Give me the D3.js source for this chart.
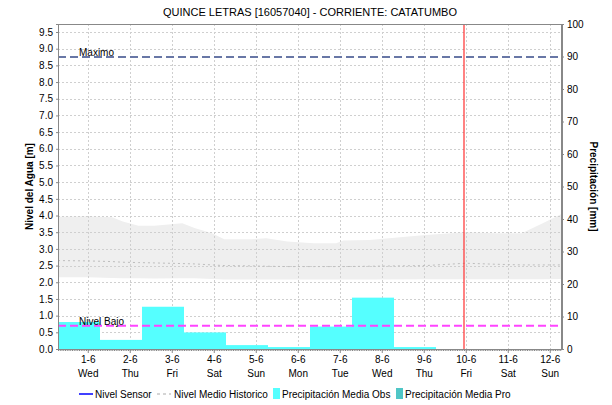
<!DOCTYPE html>
<meta charset="utf-8">
<style>
body{margin:0;background:#fff;}
svg text{font-family:"Liberation Sans",Arial,sans-serif;fill:#000;}
</style>
<svg id="chart" width="612" height="405"></svg>
<script src="https://d3js.org/d3.v7.min.js"></script>
<script>
// data
const dayTicks = ["2022-06-01","2022-06-02","2022-06-03","2022-06-04","2022-06-05","2022-06-06",
                  "2022-06-07","2022-06-08","2022-06-09","2022-06-10","2022-06-11","2022-06-12"]
const precipStart = ["2022-05-31T07:00","2022-06-01T07:00","2022-06-02T07:00","2022-06-03T07:00","2022-06-04T07:00",
                     "2022-06-05T07:00","2022-06-06T07:00","2022-06-07T07:00","2022-06-08T07:00"]
const precipObs = [8.3, 2.8, 13.0, 5.1, 1.2, 0.6, 6.9, 15.8, 0.6]
const precipPro = []
const sensorLevel = []

const histTimes = ["2022-05-31T07:00","2022-06-01T00:00","2022-06-01T14:00","2022-06-01T20:00","2022-06-02T05:00",
  "2022-06-02T14:00","2022-06-03T06:00","2022-06-03T13:00","2022-06-03T23:00","2022-06-04T06:00","2022-06-04T22:00",
  "2022-06-05T06:00","2022-06-05T18:00","2022-06-06T09:00","2022-06-06T22:00","2022-06-07T02:00","2022-06-07T17:00",
  "2022-06-09T01:00","2022-06-10T00:00","2022-06-10T17:00","2022-06-11T08:00","2022-06-11T20:00","2022-06-12T07:00"]
const histUpper = [3.96,3.98,3.95,3.82,3.69,3.69,3.77,3.63,3.47,3.29,3.29,3.32,3.22,3.17,3.17,3.25,3.27,3.42,3.50,3.47,3.47,3.77,4.05]
const histLower = [2.15,2.15,2.13,2.12,2.12,2.11,2.12,2.12,2.10,2.08,2.08,2.08,2.08,2.08,2.08,2.08,2.08,2.09,2.09,2.09,2.09,2.09,2.10]
const histMean  = [2.65,2.64,2.62,2.60,2.59,2.58,2.56,2.55,2.52,2.50,2.49,2.48,2.47,2.47,2.47,2.47,2.48,2.50,2.57,2.54,2.52,2.52,2.52]

const nivelMaximo = 8.75
const nivelBajo = 0.70
const nowTime = "2022-06-09T23:00"
const timeRange = ["2022-05-31T07:00","2022-06-12T07:00"]
const leftTicks = d3.range(0, 9.51, 0.5)
const rightTicks = d3.range(0, 101, 10)

const parse = d3.isoParse
const svg = d3.select('#chart')
const L = 58, R = 562, T = 24, B = 349

const x = d3.scaleTime().domain(timeRange.map(parse)).range([L, R])
const yL = d3.scaleLinear().domain([0, 9.74]).range([B, T])
const yR = d3.scaleLinear().domain([0, 100]).range([B, T])

svg.append('clipPath').attr('id', 'clip').append('rect')
  .attr('x', L).attr('y', T).attr('width', R - L).attr('height', B - T)
const plot = svg.append('g').attr('clip-path', 'url(#clip)')

// historic band
const hist = histTimes.map((t, i) => ({t: parse(t), hi: histUpper[i], lo: histLower[i], m: histMean[i]}))
plot.append('path').datum(hist)
  .attr('fill', '#efefef')
  .attr('d', d3.area().x(d => x(d.t)).y0(d => yL(d.lo)).y1(d => yL(d.hi)))

// grid
const grid = plot.append('g').attr('stroke', '#cfcfcf').attr('stroke-dasharray', '2,2').attr('stroke-width', 1)
grid.selectAll('line.h').data(leftTicks).join('line').attr('class', 'h')
  .attr('x1', L).attr('x2', R).attr('y1', d => Math.round(yL(d)) + 0.5).attr('y2', d => Math.round(yL(d)) + 0.5)
grid.selectAll('line.v').data(dayTicks).join('line').attr('class', 'v')
  .attr('y1', T).attr('y2', B).attr('x1', d => Math.round(x(parse(d))) + 0.5).attr('x2', d => Math.round(x(parse(d))) + 0.5)

// mean line
plot.append('path').datum(hist)
  .attr('fill', 'none').attr('stroke', '#bdbdbd').attr('stroke-width', 1).attr('stroke-dasharray', '2,3')
  .attr('d', d3.line().x(d => x(d.t)).y(d => yL(d.m)))

// precipitation bars
const day = 24 * 3600 * 1000
plot.selectAll('rect.obs').data(precipObs).join('rect').attr('class', 'obs')
  .attr('x', (d, i) => x(parse(precipStart[i])))
  .attr('width', (d, i) => x(new Date(+parse(precipStart[i]) + day)) - x(parse(precipStart[i])))
  .attr('y', d => yR(d)).attr('height', d => B - yR(d))
  .attr('fill', '#55ffff')

// reference levels
plot.append('line').attr('x1', L).attr('x2', R).attr('y1', yL(nivelMaximo)).attr('y2', yL(nivelMaximo))
  .attr('stroke', '#6877a6').attr('stroke-width', 2).attr('stroke-dasharray', '8,4')
plot.append('line').attr('x1', L).attr('x2', R).attr('y1', yL(nivelBajo)).attr('y2', yL(nivelBajo))
  .attr('stroke', '#ff44ff').attr('stroke-width', 2).attr('stroke-dasharray', '8,4')
svg.append('text').attr('x', 79).attr('y', yL(nivelMaximo) - 1).attr('font-size', 10).text('Maximo')
svg.append('text').attr('x', 79).attr('y', yL(nivelBajo) - 1).attr('font-size', 10).text('Nivel Bajo')

// current time
plot.append('line').attr('x1', x(parse(nowTime))).attr('x2', x(parse(nowTime)))
  .attr('y1', T).attr('y2', B).attr('stroke', '#ff3030').attr('stroke-width', 1.2)

// frame
svg.append('rect').attr('x', L + 0.5).attr('y', T + 0.5).attr('width', R - L - 1).attr('height', B - T)
  .attr('fill', 'none').attr('stroke', '#888')

// axes
const axL = svg.append('g').attr('transform', `translate(${L},0)`)
  .call(d3.axisLeft(yL).tickValues(leftTicks).tickFormat(d3.format('.1f')).tickSize(2).tickPadding(3))
const axR = svg.append('g').attr('transform', `translate(${R},0)`)
  .call(d3.axisRight(yR).tickValues(rightTicks).tickSize(2).tickPadding(3))
const minor = d3.timeHour.range(x.domain()[0], x.domain()[1])
const axB = svg.append('g').attr('transform', `translate(0,${B})`)
  .call(d3.axisBottom(x).tickValues(minor).tickSize(2).tickFormat(''))
const axD = svg.append('g').attr('transform', `translate(0,${B})`)
  .call(d3.axisBottom(x).tickValues(dayTicks.map(parse)).tickSize(4).tickPadding(3).tickFormat(''))
axD.selectAll('.tick text').each(function(d) {
  const t = d3.select(this)
  t.append('tspan').attr('x', 0).text(d3.timeFormat('%-d-%-m')(d))
  t.append('tspan').attr('x', 0).attr('dy', '1.35em').text(d3.timeFormat('%a')(d))
})
for (const a of [axL, axR, axB, axD]) {
  a.select('.domain').attr('stroke', '#888')
  a.selectAll('.tick line').attr('stroke', '#888')
  a.selectAll('.tick text').attr('font-size', 10).attr('font-family', '"Liberation Sans",Arial,sans-serif').attr('fill', '#333')
}
axB.select('.domain').remove()
axD.select('.domain').remove()

// titles
svg.append('text').attr('x', 310).attr('y', 16).attr('text-anchor', 'middle').attr('font-size', 11)
  .text('QUINCE LETRAS [16057040] - CORRIENTE: CATATUMBO')
svg.append('text').attr('transform', `translate(33,${(T + B) / 2}) rotate(-90)`).attr('text-anchor', 'middle')
  .attr('font-size', 10).attr('font-weight', 'bold').attr('fill', '#444').text('Nivel del Agua [m]')
svg.append('text').attr('transform', `translate(590,${(T + B) / 2}) rotate(90)`).attr('text-anchor', 'middle')
  .attr('font-size', 10).attr('font-weight', 'bold').attr('fill', '#444').text('Precipitación [mm]')

// legend
const lg = svg.append('g').attr('font-size', 10)
lg.append('line').attr('x1', 79).attr('x2', 93).attr('y1', 394).attr('y2', 394).attr('stroke', '#0000ff').attr('stroke-width', 1.5)
lg.append('text').attr('x', 95).attr('y', 398).text('Nivel Sensor')
lg.append('line').attr('x1', 157).attr('x2', 171).attr('y1', 394).attr('y2', 394).attr('stroke', '#c8c8c8').attr('stroke-width', 1.5).attr('stroke-dasharray', '3,3')
lg.append('text').attr('x', 174).attr('y', 398).text('Nivel Medio Historico')
lg.append('rect').attr('x', 273).attr('y', 388).attr('width', 7).attr('height', 11).attr('fill', '#55ffff')
lg.append('text').attr('x', 282).attr('y', 398).text('Precipitación Media Obs')
lg.append('rect').attr('x', 396).attr('y', 388).attr('width', 7).attr('height', 11).attr('fill', '#4fc6c6')
lg.append('text').attr('x', 405).attr('y', 398).text('Precipitación Media Pro')
</script>
